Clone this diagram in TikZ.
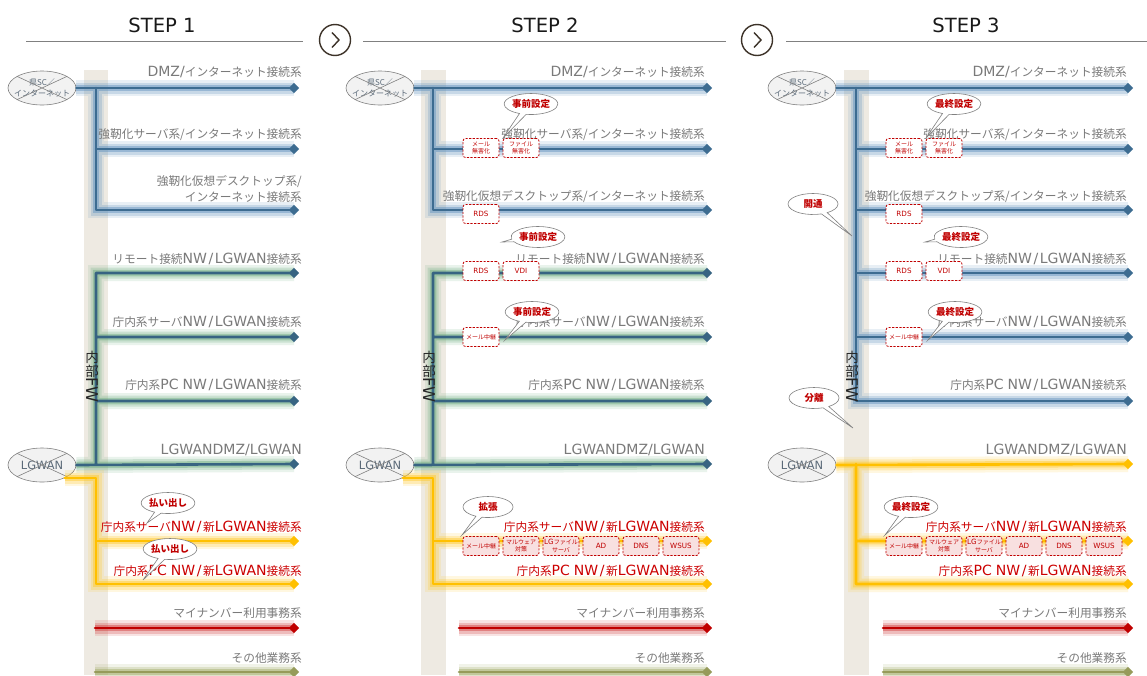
\documentclass[tikz,border=0pt]{standalone}
\usepackage{fontspec}
\setmainfont{Noto Sans CJK JP}
\newfontfamily\latf{DejaVu Sans}[Scale=1.2]
\newfontfamily\titf{DejaVu Sans}[Scale=1.15]
\newcommand\latn[1]{{\latf #1}}
\newcommand\sls{\kern1.5pt\latn{/}\kern1.5pt}
\usetikzlibrary{shapes.geometric,shapes.callouts}
\definecolor{cBlue}{RGB}{61,108,145}
\definecolor{gBlue}{RGB}{95,145,190}
\definecolor{cTeal}{RGB}{55,100,130}
\definecolor{gGreen}{RGB}{105,170,125}
\definecolor{cYel}{RGB}{255,192,0}
\definecolor{gYel}{RGB}{255,200,40}
\definecolor{cRed}{RGB}{192,0,0}
\definecolor{gRed}{RGB}{210,60,60}
\definecolor{cOl}{RGB}{150,155,90}
\definecolor{gOl}{RGB}{160,170,100}
\definecolor{barc}{RGB}{238,234,226}
\definecolor{lblgray}{RGB}{122,122,122}
\definecolor{newred}{RGB}{204,0,0}
\definecolor{cloudline}{RGB}{128,128,128}
\definecolor{cloudfill}{RGB}{242,242,242}
\definecolor{cloudtext}{RGB}{90,105,120}
\definecolor{boxred}{RGB}{192,0,0}
\definecolor{boxpink}{RGB}{248,224,224}
\definecolor{bubline}{RGB}{128,128,128}
\definecolor{bubred}{RGB}{192,0,0}
\definecolor{tgray}{RGB}{128,128,128}
\definecolor{chevc}{RGB}{60,50,40}
\newcommand\labA{\latn{DMZ/}インターネット接続系}
\newcommand\labB{強靭化サーバ系/インターネット接続系}
\newcommand\labC{強靭化仮想デスクトップ系/インターネット接続系}
\newcommand\labD{リモート接続\latn{NW}\sls\latn{LGWAN}接続系}
\newcommand\labE{庁内系サーバ\latn{NW}\sls\latn{LGWAN}接続系}
\newcommand\labF{庁内系\latn{PC}\kern4pt\latn{NW}\sls\latn{LGWAN}接続系}
\newcommand\labG{\latn{LGWANDMZ/LGWAN}}
\newcommand\labH{庁内系サーバ\latn{NW}\sls 新\latn{LGWAN}接続系}
\newcommand\labI{庁内系\latn{PC}\kern4pt\latn{NW}\sls 新\latn{LGWAN}接続系}
\newcommand\labJ{マイナンバー利用事務系}
\newcommand\labK{その他業務系}
\tikzset{
 glow/.style 2 args={line cap=round, line join=round,
   preaction={draw=#2, line width=16pt, opacity=.14},
   preaction={draw=#2, line width=11pt, opacity=.24},
   preaction={draw=#2, line width=6.5pt, opacity=.45},
   draw=#1, line width=2.6pt},
 gB/.style={glow={cBlue}{gBlue}},
 gG/.style={glow={cTeal}{gGreen}},
 gY/.style={glow={cYel}{gYel}},
 gR/.style={glow={cRed}{gRed}},
 gO/.style={glow={cOl}{gOl}},
 tipd/.style={diamond, inner sep=0pt, minimum width=10.5pt, minimum height=10.5pt},
 tB/.style={tipd, fill=cBlue},
 tG/.style={tipd, fill=cTeal},
 tY/.style={tipd, fill=cYel},
 tR/.style={tipd, fill=cRed},
 tO/.style={tipd, fill=cOl},
 lbl/.style={anchor=east, inner sep=0pt, text=lblgray, font=\fontsize{11.7}{16}\selectfont, align=right},
 lblred/.style={lbl, text=newred},
 cloudE/.style={ellipse, draw=cloudline, fill=cloudfill, line width=0.6pt, minimum width=68pt, minimum height=34pt, inner sep=0pt},
 cloudtxt/.style={inner sep=0pt, text=cloudtext, font=\fontsize{8}{10.5}\selectfont, align=center},
 lgtxt/.style={inner sep=0pt, text=cloudtext, font=\fontsize{9.5}{11}\selectfont},
 crossline/.style={draw=cloudline, line width=0.6pt},
 fwtxt/.style={inner sep=0pt, text=black!85, font=\fontsize{13.5}{14}\selectfont},
 dbox/.style={draw=boxred, dash pattern=on 2.2pt off 1.4pt, line width=0.8pt, rounded corners=2.5pt, fill=white, minimum width=36pt, minimum height=19pt, inner sep=0pt, text=boxred, font=\fontsize{6}{7.5}\selectfont, align=center},
 pbox/.style={dbox, fill=boxpink},
 bubble/.style={ellipse callout, draw=bubline, line width=0.6pt, fill=white, minimum width=50pt, minimum height=21pt, inner sep=0pt, text=bubred, font=\fontsize{9.5}{10}\selectfont\bfseries},
 title/.style={inner sep=0pt, text=black!90, font=\fontsize{17}{20}\selectfont\titf},
 tline/.style={draw=tgray, line width=1pt},
 nextc/.style={circle, draw=chevc, line width=1.4pt, minimum size=31pt, inner sep=0pt},
 chev/.style={draw=chevc, line width=1.4pt}
}
\begin{document}
\begin{tikzpicture}[x=1pt,y=-1pt]
\useasboundingbox (0,0) rectangle (1147,675);
\fill[white] (0,0) rectangle (1147,675);
% ---------------- titles
\node[title] (s1) at (162,25) {STEP 1};
\node[title] (s2) at (545,25) {STEP 2};
\node[title] (s3) at (966,25) {STEP 3};
\coordinate (tl1a) at (26,41); \coordinate (tl1b) at (303,41);
\coordinate (tl2a) at (363,41); \coordinate (tl2b) at (726,41);
\coordinate (tl3a) at (786,41); \coordinate (tl3b) at (1147,41);
\draw[tline] (tl1a) -- (tl1b);
\draw[tline] (tl2a) -- (tl2b);
\draw[tline] (tl3a) -- (tl3b);
\node[nextc] (n1) at (335,40) {};
\node[nextc] (n2) at (757,40) {};
\foreach \n in {n1,n2}{
 \draw[chev] ([xshift=-3pt,yshift=7.5pt]\n.center) -- ([xshift=4pt]\n.center) -- ([xshift=-3pt,yshift=-7.5pt]\n.center);
}
% ================= PANEL 1
\fill[barc] (84,70) rectangle (108,675);
\node[cloudE] (sc1) at (42,88) {};
\node[cloudtxt] (sc1t) at (42,88) {県SC／\\インターネット};
\draw[crossline] (sc1.155) -- (sc1.-25) (sc1.25) -- (sc1.205);
\node[cloudE] (lg1) at (42,465) {};
\node[lgtxt] (lg1t) at (42,465) {\latn{LGWAN}};
\draw[crossline] (lg1.155) -- (lg1.-25) (lg1.25) -- (lg1.205);
\foreach \i/\y in {1/88,2/149,3/210,4/273,5/337,6/401,7/464,8/541,9/584,10/628,11/672}{
  \coordinate (p1e\i) at (294,\y);
  \coordinate (p1j\i) at (96,\y);
}
\coordinate (p1s10) at (95,628); \coordinate (p1s11) at (95,672);
\draw[gB] (sc1.east) -- (p1e1) (p1j1) |- (p1e3) (p1j2) -- (p1e2);
\draw[gG] (lg1.east) -- (p1e7) (p1j7) |- (p1e4) (p1j5) -- (p1e5) (p1j6) -- (p1e6);
\draw[gY] (lg1.-30) -| (p1j9) -- (p1e9) (p1j8) -- (p1e8);
\draw[gR] (p1s10) -- (p1e10);
\draw[gO] (p1s11) -- (p1e11);
\foreach \i/\s in {1/tB,2/tB,3/tB,4/tG,5/tG,6/tG,7/tG,8/tY,9/tY,10/tR,11/tO}{
  \node[\s] (p1d\i) at (p1e\i) {};
}
\node[lbl] (p1l1) at (302,72) {\labA};
\node[lbl] (p1l2) at (302,135) {\labB};
\node[lbl] (p1l3) at (302,189) {強靭化仮想デスクトップ系/\\インターネット接続系};
\node[lbl] (p1l4) at (302,259) {\labD};
\node[lbl] (p1l5) at (302,322) {\labE};
\node[lbl] (p1l6) at (302,385) {\labF};
\node[lbl] (p1l7) at (302,450) {\labG};
\node[lblred] (p1l8) at (302,527) {\labH};
\node[lblred] (p1l9) at (302,571) {\labI};
\node[lbl] (p1l10) at (302,613) {\labJ};
\node[lbl] (p1l11) at (302,658) {\labK};
\node[fwtxt] (p1fa) at (92,357) {内};
\node[fwtxt] (p1fb) at (92,371) {部};
\node[fwtxt, rotate=-90] (p1fc) at (92,390) {\latn{FW}};
\node[bubble, callout absolute pointer={(147,523)}] (p1b1) at (168,503) {払い出し};
\node[bubble, callout absolute pointer={(143,580)}] (p1b2) at (170,549) {払い出し};
% ================= PANEL 2
\fill[barc] (421,70) rectangle (446,675);
\node[cloudE] (sc2) at (380,88) {};
\node[cloudtxt] (sc2t) at (380,88) {県SC／\\インターネット};
\draw[crossline] (sc2.155) -- (sc2.-25) (sc2.25) -- (sc2.205);
\node[cloudE] (lg2) at (380,465) {};
\node[lgtxt] (lg2t) at (380,465) {\latn{LGWAN}};
\draw[crossline] (lg2.155) -- (lg2.-25) (lg2.25) -- (lg2.205);
\foreach \i/\y in {1/88,2/149,3/210,4/273,5/337,6/401,7/464,8/541,9/584,10/628,11/672}{
  \coordinate (p2e\i) at (707,\y);
  \coordinate (p2j\i) at (433,\y);
}
\coordinate (p2s10) at (459,628); \coordinate (p2s11) at (459,672);
\draw[gB] (sc2.east) -- (p2e1) (p2j1) |- (p2e3) (p2j2) -- (p2e2);
\draw[gG] (lg2.east) -- (p2e7) (p2j7) |- (p2e4) (p2j5) -- (p2e5) (p2j6) -- (p2e6);
\draw[gY] (lg2.-30) -| (p2j9) -- (p2e9) (p2j8) -- (p2e8);
\draw[gR] (p2s10) -- (p2e10);
\draw[gO] (p2s11) -- (p2e11);
\foreach \i/\s in {1/tB,2/tB,3/tB,4/tG,5/tG,6/tG,7/tG,8/tY,9/tY,10/tR,11/tO}{
  \node[\s] (p2d\i) at (p2e\i) {};
}
\node[lbl] (p2l1) at (705,72) {\labA};
\node[lbl] (p2l2) at (705,135) {\labB};
\node[lbl] (p2l3) at (705,197) {\labC};
\node[lbl] (p2l4) at (705,259) {\labD};
\node[lbl] (p2l5) at (705,322) {\labE};
\node[lbl] (p2l6) at (705,385) {\labF};
\node[lbl] (p2l7) at (705,450) {\labG};
\node[lblred] (p2l8) at (705,527) {\labH};
\node[lblred] (p2l9) at (705,571) {\labI};
\node[lbl] (p2l10) at (705,613) {\labJ};
\node[lbl] (p2l11) at (705,658) {\labK};
\node[fwtxt] (p2fa) at (429,357) {内};
\node[fwtxt] (p2fb) at (429,371) {部};
\node[fwtxt, rotate=-90] (p2fc) at (429,390) {\latn{FW}};
\node[dbox] (p2x1) at (481,148) {メール\\無害化};
\node[dbox] (p2x2) at (521,148) {ファイル\\無害化};
\node[dbox] (p2x3) at (481,214) {\latn{RDS}};
\node[dbox] (p2x4) at (481,271) {\latn{RDS}};
\node[dbox] (p2x5) at (521,271) {\latn{VDI}};
\node[dbox] (p2x6) at (481,337) {メール中継};
\node[pbox] (p2y1) at (481,546) {メール中継};
\node[pbox] (p2y2) at (521,546) {マルウェア\\対策};
\node[pbox] (p2y3) at (561,546) {\latn{LG}ファイル\\サーバ};
\node[pbox] (p2y4) at (601,546) {\latn{AD}};
\node[pbox] (p2y5) at (641,546) {\latn{DNS}};
\node[pbox] (p2y6) at (681,546) {\latn{WSUS}};
\node[bubble, callout absolute pointer={(503,138)}] (p2b1) at (531,104) {事前設定};
\node[bubble, callout absolute pointer={(502,242)}] (p2b2) at (538,237) {事前設定};
\node[bubble, callout absolute pointer={(505,340)}] (p2b3) at (532,312) {事前設定};
\node[bubble, callout absolute pointer={(462,535)}] (p2b4) at (488,507) {拡張};
% ================= PANEL 3
\fill[barc] (844,70) rectangle (869,675);
\node[cloudE] (sc3) at (802,88) {};
\node[cloudtxt] (sc3t) at (802,88) {県SC／\\インターネット};
\draw[crossline] (sc3.155) -- (sc3.-25) (sc3.25) -- (sc3.205);
\node[cloudE] (lg3) at (802,465) {};
\node[lgtxt] (lg3t) at (802,465) {\latn{LGWAN}};
\draw[crossline] (lg3.155) -- (lg3.-25) (lg3.25) -- (lg3.205);
\foreach \i/\y in {1/88,2/149,3/210,4/273,5/337,6/401,7/464,8/541,9/584,10/628,11/672}{
  \coordinate (p3e\i) at (1128,\y);
  \coordinate (p3j\i) at (856,\y);
}
\coordinate (p3s10) at (883,628); \coordinate (p3s11) at (883,672);
\draw[gB] (sc3.east) -- (p3e1) (p3j1) |- (p3e6) (p3j2) -- (p3e2) (p3j3) -- (p3e3) (p3j4) -- (p3e4) (p3j5) -- (p3e5);
\draw[gY] (lg3.east) -- (p3e7) (p3j7) |- (p3e9) (p3j8) -- (p3e8);
\draw[gR] (p3s10) -- (p3e10);
\draw[gO] (p3s11) -- (p3e11);
\foreach \i/\s in {1/tB,2/tB,3/tB,4/tB,5/tB,6/tB,7/tY,8/tY,9/tY,10/tR,11/tO}{
  \node[\s] (p3d\i) at (p3e\i) {};
}
\node[lbl] (p3l1) at (1127,72) {\labA};
\node[lbl] (p3l2) at (1127,135) {\labB};
\node[lbl] (p3l3) at (1127,197) {\labC};
\node[lbl] (p3l4) at (1127,259) {\labD};
\node[lbl] (p3l5) at (1127,322) {\labE};
\node[lbl] (p3l6) at (1127,385) {\labF};
\node[lbl] (p3l7) at (1127,450) {\labG};
\node[lblred] (p3l8) at (1127,527) {\labH};
\node[lblred] (p3l9) at (1127,571) {\labI};
\node[lbl] (p3l10) at (1127,613) {\labJ};
\node[lbl] (p3l11) at (1127,658) {\labK};
\node[fwtxt] (p3fa) at (852,357) {内};
\node[fwtxt] (p3fb) at (852,371) {部};
\node[fwtxt, rotate=-90] (p3fc) at (852,390) {\latn{FW}};
\node[dbox] (p3x1) at (904,148) {メール\\無害化};
\node[dbox] (p3x2) at (944,148) {ファイル\\無害化};
\node[dbox] (p3x3) at (904,214) {\latn{RDS}};
\node[dbox] (p3x4) at (904,271) {\latn{RDS}};
\node[dbox] (p3x5) at (944,271) {\latn{VDI}};
\node[dbox] (p3x6) at (904,337) {メール中継};
\node[pbox] (p3y1) at (904,546) {メール中継};
\node[pbox] (p3y2) at (944,546) {マルウェア\\対策};
\node[pbox] (p3y3) at (984,546) {\latn{LG}ファイル\\サーバ};
\node[pbox] (p3y4) at (1024,546) {\latn{AD}};
\node[pbox] (p3y5) at (1064,546) {\latn{DNS}};
\node[pbox] (p3y6) at (1104,546) {\latn{WSUS}};
\node[bubble, callout absolute pointer={(926,138)}] (p3b1) at (954,104) {最終設定};
\node[bubble, callout absolute pointer={(925,242)}] (p3b2) at (961,237) {最終設定};
\node[bubble, callout absolute pointer={(928,340)}] (p3b3) at (955,312) {最終設定};
\node[bubble, callout absolute pointer={(885,535)}] (p3b4) at (911,507) {最終設定};
\node[bubble, callout absolute pointer={(852,236)}] (p3b5) at (813,204) {開通};
\node[bubble, callout absolute pointer={(853,428)}] (p3b6) at (814,398) {分離};
\end{tikzpicture}
\end{document}
